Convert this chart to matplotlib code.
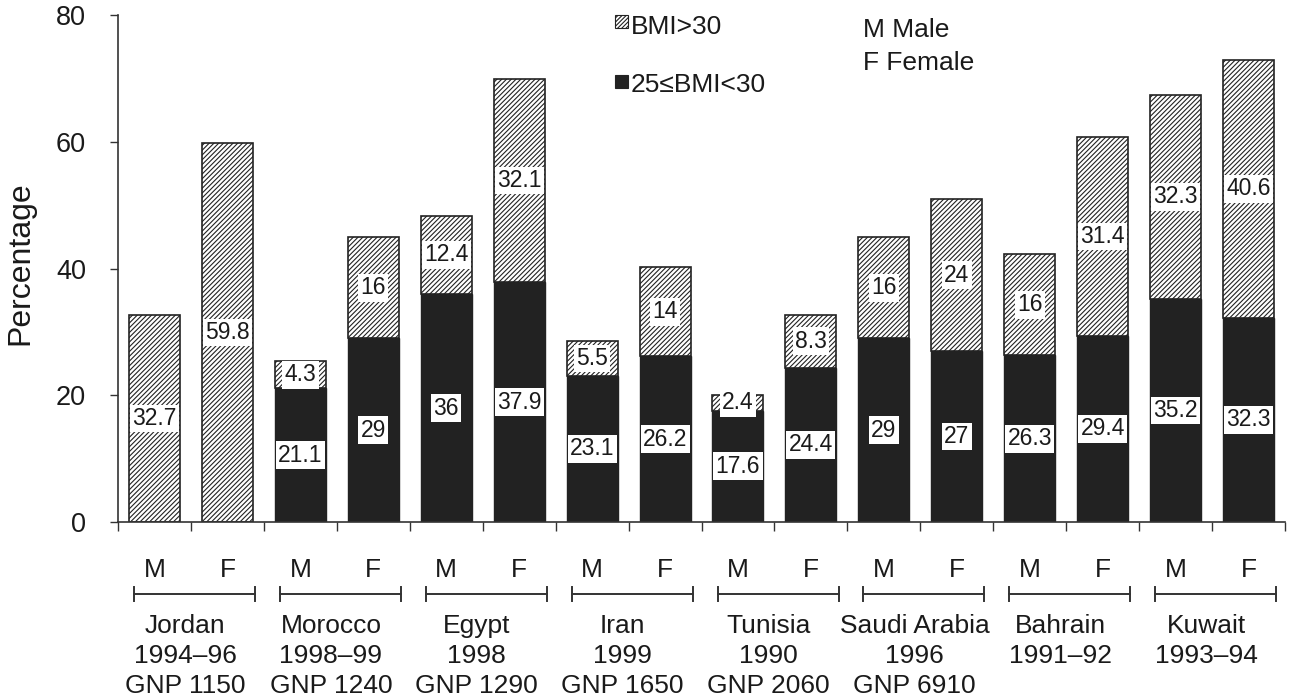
import matplotlib
matplotlib.use("Agg")
import matplotlib.pyplot as plt
from matplotlib.patches import Rectangle
import numpy as np

plt.rcParams['font.family'] = ['Liberation Sans', 'DejaVu Sans']
plt.rcParams['hatch.linewidth'] = 0.8
plt.rcParams['hatch.color'] = '#2a2a2a'

# ---- data ----
countries = ["Jordan", "Morocco", "Egypt", "Iran", "Tunisia", "Saudi Arabia", "Bahrain", "Kuwait"]
years = ["1994\u201396", "1998\u201399", "1998", "1999", "1990", "1996", "1991\u201392", "1993\u201394"]
gnp = ["GNP 1150", "GNP 1240", "GNP 1290", "GNP 1650", "GNP 2060", "GNP 6910", "", ""]
sexes = ["M", "F"]
# 25<=BMI<30 (None = not reported)
overweight = [None, None, 21.1, 29, 36, 37.9, 23.1, 26.2, 17.6, 24.4, 29, 27, 26.3, 29.4, 35.2, 32.3]
# BMI>30
obese = [32.7, 59.8, 4.3, 16, 12.4, 32.1, 5.5, 14, 2.4, 8.3, 16, 24, 16, 31.4, 32.3, 40.6]
yticks = [0, 20, 40, 60, 80]

W, H = 1292, 698
fig = plt.figure(figsize=(W / 100, H / 100), dpi=100)
ax = fig.add_axes([118 / W, 1 - 522 / H, (1285 - 118) / W, (522 - 15.5) / H])

dark = '#222222'
txt = '#1a1a1a'
n = len(obese)
x = np.arange(n) + 0.5
bw = 0.70
ow = np.array([v if v is not None else 0 for v in overweight], dtype=float)
ob = np.array(obese, dtype=float)

ax.bar(x, ow, bw, color=dark, edgecolor=dark, linewidth=1.0, zorder=2)
ax.bar(x, ob, bw, bottom=ow, color='white', edgecolor=dark, hatch='///////',
       linewidth=1.2, zorder=2)

lab_kw = dict(ha='center', va='center', fontsize=16.5, color=txt, zorder=5,
              bbox=dict(boxstyle='square,pad=0.1', fc='white', ec='none'))
for i in range(n):
    if overweight[i] is not None:
        ax.text(x[i], ow[i] / 2, f"{overweight[i]:g}", **lab_kw)
    ax.text(x[i], ow[i] + ob[i] / 2, f"{obese[i]:g}", **lab_kw)

ax.set_xlim(0, n)
ax.set_ylim(0, 80)
ax.set_yticks(yticks)
ax.set_xticks(np.arange(n + 1))
ax.set_xticklabels([])
ax.tick_params(axis='y', labelsize=19.5, length=6, width=1.0, color='#333333',
               labelcolor=txt, pad=17, direction='out')
ax.tick_params(axis='x', length=6.5, width=1.0, color='#333333', direction='out')
for s in ['top', 'right']:
    ax.spines[s].set_visible(False)
for s in ['left', 'bottom']:
    ax.spines[s].set_color('#333333')
    ax.spines[s].set_linewidth(1.2)
ax.set_ylabel("Percentage", fontsize=23, color=txt)
ax.yaxis.set_label_coords(-0.071, 0.51)

# ---- below-axis labels ----
px = 80 / (522 - 15.5)  # data units per pixel
def ypix(p):
    return (522 - p) * px

for i in range(n):
    ax.text(x[i], ypix(577), sexes[i % 2], ha='center', va='baseline', fontsize=19,
            color=txt, clip_on=False)

for g in range(len(countries)):
    x0, x1 = 2 * g + 0.22, 2 * g + 1.88
    yb = ypix(594)
    ax.plot([x0, x1], [yb, yb], color='#333333', lw=1.4, clip_on=False)
    for xx in (x0, x1):
        ax.plot([xx, xx], [yb - 7 * px, yb + 7 * px], color='#333333', lw=1.4, clip_on=False)
    cx = 2 * g + 0.92
    lines = [countries[g], years[g], gnp[g]]
    for k, t in enumerate(lines):
        if t:
            ax.text(cx, ypix(633 + 30 * k), t, ha='center', va='baseline', fontsize=19,
                    color=txt, clip_on=False)

# ---- legend ----
def fx(p):
    return p / W
def fy(p):
    return 1 - p / H

fig.patches.append(Rectangle((fx(615), fy(28)), 13 / W, 13 / H, transform=fig.transFigure,
                             facecolor='white', edgecolor=dark, hatch='////////', lw=0.8))
fig.patches.append(Rectangle((fx(615), fy(88)), 13 / W, 13 / H, transform=fig.transFigure,
                             facecolor=dark, edgecolor=dark, lw=0.8))
fig.text(fx(631), fy(34), "BMI>30", ha='left', va='baseline', fontsize=19, color=txt)
fig.text(fx(631), fy(92), "25\u2264BMI<30", ha='left', va='baseline', fontsize=19, color=txt)
fig.text(fx(863), fy(37), "M Male", ha='left', va='baseline', fontsize=19, color=txt)
fig.text(fx(863), fy(70), "F Female", ha='left', va='baseline', fontsize=19, color=txt)

fig.savefig("out.png", dpi=100)
